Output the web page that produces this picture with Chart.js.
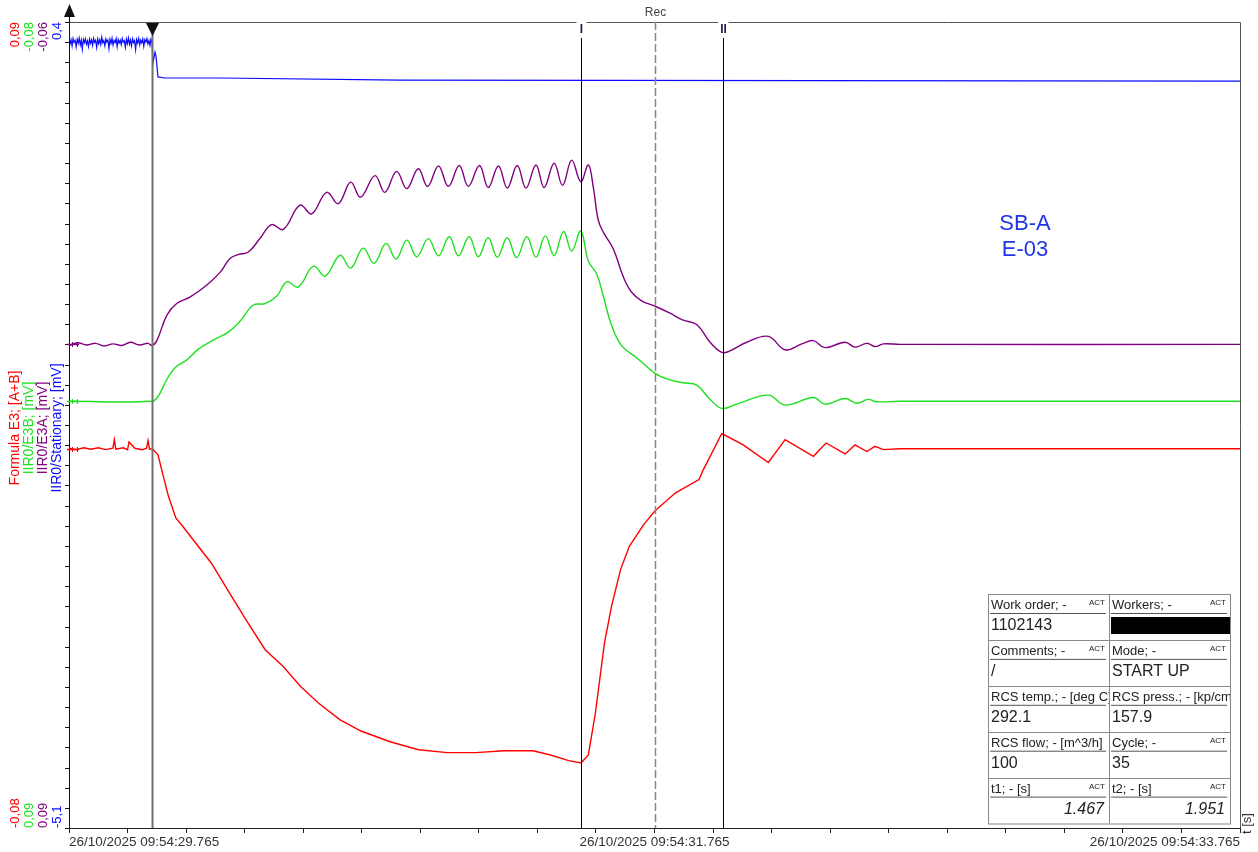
<!DOCTYPE html>
<html>
<head>
<meta charset="utf-8">
<title>SB-A E-03</title>
<script src="https://cdn.jsdelivr.net/npm/chart.js@4.4.1/dist/chart.umd.min.js"></script>
<style>
  html, body { margin: 0; padding: 0; background: #fff; }
  #wrap { position: relative; width: 1258px; height: 852px; }
</style>
</head>
<body>
<div id="wrap"><canvas id="grafico" width="1258" height="852"></canvas></div>
<script>
// Tiempo en segundos contados desde 26/10/2025 09:54:29.765
const startLabel = '26/10/2025 09:54:';
const startSec = 29.765;
const triggerT = 0.2835;
const cursorT = [1.467, 1.951];   // t1, t2 (relativos al trigger)
const recT = 2.0;                 // linea discontinua "Rec"

// Canales: rojo, verde, morado, azul
const seriesNames = ['Formula E3; [A+B]', 'IIR0/E3B; [mV]', 'IIR0/E3A; [mV]', 'IIR0/Stationary; [mV]'];
const axisMin = [-0.08, -0.08, -0.06, -5.1];
const axisMax = [0.09, 0.09, 0.09, 0.4];
const axisReverse = [false, true, true, false];

// Formula E3 [A+B]
const tR = [0, 0.025, 0.05, 0.075, 0.1, 0.125, 0.15, 0.155, 0.16, 0.185, 0.2, 0.205, 0.225, 0.25, 0.265, 0.27, 0.275,
  0.285, 0.304, 0.322, 0.34, 0.365, 0.389, 0.438, 0.486, 0.548, 0.608, 0.67, 0.731, 0.792, 0.853, 0.926, 0.999,
  1.097, 1.194, 1.292, 1.389, 1.487, 1.585, 1.645, 1.707, 1.749, 1.774, 1.798, 1.829, 1.853, 1.884, 1.914, 1.963,
  2.002, 2.072, 2.152, 2.167, 2.23, 2.303, 2.389, 2.446, 2.543, 2.586, 2.651, 2.685, 2.725, 2.753, 2.782, 2.839, 4];
const vR = [0.0001, -0.0002, 0.0002, -0.0001, 0.0002, -0.0002, 0.0001, 0.0019, -0.0001, 0.0002, -0.0002, 0.0014, 0.0001, -0.0002, 0.0001, 0.0017, -0.0001,
  0, -0.0013, -0.0058, -0.0101, -0.0146, -0.0164, -0.0203, -0.0241, -0.0304, -0.0364, -0.0424, -0.0459, -0.0502, -0.0537, -0.0572, -0.0596,
  -0.0618, -0.0635, -0.0641, -0.0641, -0.0637, -0.0637, -0.0646, -0.0658, -0.0663, -0.0646, -0.0558, -0.0410, -0.0333, -0.0255, -0.0206, -0.0160,
  -0.0131, -0.0093, -0.0065, -0.0044, 0.0032, 0.0008, -0.0029, 0.0019, -0.0016, 0.0012, -0.0011, 0.0008, -0.0006, 0.0005, -0.0002, 0, 0];

// IIR0/E3B
const tB = [0, 0.2835, 0.305, 0.334, 0.362, 0.402, 0.442, 0.493, 0.544, 0.584, 0.63, 0.67, 0.71, 0.744, 0.783, 0.835,
  0.875, 0.926, 0.962, 1.005, 1.042, 1.083, 1.117, 1.154, 1.188, 1.227, 1.262, 1.299, 1.33, 1.367, 1.398, 1.432,
  1.463, 1.497, 1.529, 1.564, 1.595, 1.627, 1.657, 1.689, 1.717, 1.748, 1.774, 1.803, 1.825, 1.854, 1.888, 1.939,
  2.002, 2.053, 2.098, 2.144, 2.19, 2.23, 2.281, 2.389, 2.446, 2.543, 2.582, 2.651, 2.691, 2.73, 2.759, 2.839, 4];
const vB = [0, 0, -0.0011, -0.0046, -0.0071, -0.0087, -0.0110, -0.0129, -0.0146, -0.0169, -0.0203, -0.0206, -0.0222, -0.0252, -0.0241, -0.0285,
  -0.0264, -0.0308, -0.0281, -0.0323, -0.0291, -0.0333, -0.0300, -0.0340, -0.0305, -0.0343, -0.0307, -0.0347, -0.0307, -0.0347, -0.0305, -0.0345,
  -0.0304, -0.0345, -0.0303, -0.0347, -0.0304, -0.0349, -0.0307, -0.0358, -0.0317, -0.0359, -0.0296, -0.0268, -0.0222, -0.0159, -0.0117, -0.0092,
  -0.0059, -0.0045, -0.0039, -0.0034, -0.0004, 0.0015, 0.0006, -0.0013, 0.0008, -0.0008, 0.0006, -0.0006, 0.0004, -0.0004, 0.0001, 0, 0];

// IIR0/E3A
const tA = [0, 0.03, 0.06, 0.09, 0.12, 0.15, 0.18, 0.21, 0.24, 0.27, 0.2835, 0.3, 0.334, 0.368, 0.413, 0.47, 0.516, 0.55,
  0.578, 0.613, 0.652, 0.692, 0.732, 0.789, 0.829, 0.88, 0.92, 0.962, 0.996, 1.045, 1.079, 1.119, 1.154, 1.193, 1.225,
  1.262, 1.296, 1.333, 1.364, 1.402, 1.432, 1.467, 1.497, 1.531, 1.561, 1.595, 1.623, 1.657, 1.686, 1.717, 1.748, 1.774,
  1.791, 1.808, 1.825, 1.859, 1.894, 1.922, 1.956, 2.002, 2.053, 2.098, 2.144, 2.19, 2.23, 2.258, 2.315, 2.389, 2.446,
  2.503, 2.543, 2.582, 2.651, 2.685, 2.725, 2.753, 2.782, 2.839, 4];
const vA = [0.0002, -0.0003, 0.0001, -0.0002, 0.0003, -0.0001, 0.0002, -0.0004, 0.0001, -0.0002, 0.0002, -0.0007, -0.0054, -0.0076, -0.0088, -0.0110, -0.0134, -0.0160,
  -0.0167, -0.0172, -0.0197, -0.0223, -0.0214, -0.0259, -0.0243, -0.0283, -0.0262, -0.0302, -0.0274, -0.0314, -0.0283, -0.0322, -0.0290, -0.0327, -0.0294,
  -0.0332, -0.0294, -0.0333, -0.0294, -0.0333, -0.0292, -0.0332, -0.0291, -0.0333, -0.0291, -0.0334, -0.0292, -0.0337, -0.0296, -0.0343, -0.0303, -0.0334,
  -0.0292, -0.0231, -0.0209, -0.0178, -0.0125, -0.0097, -0.0081, -0.0071, -0.0058, -0.0045, -0.0037, -0.0004, 0.0015, 0.0012, -0.0004, -0.0015, 0.0010,
  -0.0001, -0.0007, 0.0006, -0.0004, 0.0005, -0.0002, 0.0004, -0.0001, 0, 0];

// IIR0/Stationary
const tS = [0, 0.0035, 0.007, 0.0105, 0.014, 0.0175, 0.021, 0.0245, 0.028, 0.0315, 0.035, 0.0385, 0.042, 0.0455, 0.049, 0.0525,
  0.056, 0.0595, 0.063, 0.0665, 0.07, 0.0735, 0.077, 0.0805, 0.084, 0.0875, 0.091, 0.0945, 0.098, 0.1015, 0.105, 0.1085,
  0.112, 0.1155, 0.119, 0.1225, 0.126, 0.1295, 0.133, 0.1365, 0.14, 0.1435, 0.147, 0.1505, 0.154, 0.1575, 0.161, 0.1645,
  0.168, 0.1715, 0.175, 0.1785, 0.182, 0.1855, 0.189, 0.1925, 0.196, 0.1995, 0.203, 0.2065, 0.21, 0.2135, 0.217, 0.2205,
  0.224, 0.2275, 0.231, 0.2345, 0.238, 0.2415, 0.245, 0.2485, 0.252, 0.2555, 0.259, 0.2625, 0.266, 0.2695, 0.273, 0.2765, 0.28,
  0.2835, 0.2869, 0.2938, 0.2972, 0.304, 0.328, 0.516, 1.131, 4];
const vS = [0.284, 0.251, 0.279, 0.236, 0.287, 0.262, 0.274, 0.229, 0.282, 0.256, 0.290, 0.244, 0.276, 0.214, 0.281, 0.259,
  0.286, 0.248, 0.272, 0.233, 0.283, 0.255, 0.278, 0.241, 0.288, 0.261, 0.275, 0.226, 0.284, 0.252, 0.279, 0.246,
  0.296, 0.258, 0.273, 0.238, 0.285, 0.263, 0.277, 0.219, 0.282, 0.254, 0.289, 0.243, 0.274, 0.260, 0.286, 0.231,
  0.280, 0.257, 0.276, 0.245, 0.287, 0.262, 0.272, 0.227, 0.283, 0.253, 0.291, 0.249, 0.278, 0.237, 0.285, 0.260,
  0.274, 0.212, 0.281, 0.256, 0.288, 0.244, 0.276, 0.258, 0.284, 0.234, 0.279, 0.263, 0.287, 0.250, 0.273, 0.240, 0.283,
  0.264, 0.120, 0.195, 0.168, 0.025, 0.018, 0.018, 0.004, -0.003];

// Tabla de informacion
const infoLabels = ['Work order; -', 'Workers; -', 'Comments; -', 'Mode; -', 'RCS temp.; - [deg C]', 'RCS press.; - [kp/cm2]',
  'RCS flow; - [m^3/h]', 'Cycle; -', 't1; - [s]', 't2; - [s]'];
const infoAct = [true, true, true, true, false, false, false, true, true, true];
const infoValues = ['1102143', null, '/', 'START UP', '292.1', '157.9', '100', '35', cursorT[0].toFixed(3), cursorT[1].toFixed(3)];

const colors = ['#ff0000', '#1ee01e', '#800080', '#0a0aff'];
const axisIds = ['yR', 'yB', 'yA', 'yS'];
const FONT = 'Arial, "Liberation Sans", sans-serif';

function toXY(ts, vs) {
    return ts.map((t, i) => ({ x: t, y: vs[i] }));
}

function line(ctx, x1, y1, x2, y2) {
    ctx.beginPath();
    ctx.moveTo(x1, y1);
    ctx.lineTo(x2, y2);
    ctx.stroke();
}

// Texto girado 90 grados (se lee de abajo hacia arriba)
function rotText(ctx, txt, x, y, align, color) {
    ctx.save();
    ctx.translate(x, y);
    ctx.rotate(-Math.PI / 2);
    ctx.textAlign = align;
    ctx.textBaseline = 'middle';
    ctx.fillStyle = color;
    ctx.fillText(txt, 0, 0);
    ctx.restore();
}

function fmt(v) {
    return String(v).replace('.', ',');
}

function drawInfo(ctx) {
    const L = 988, T = 594, W = 121, H = 45.9;
    ctx.fillStyle = '#fff';
    ctx.fillRect(L, T, 2 * W, 5 * H);
    for (let i = 0; i < infoLabels.length; i++) {
        const x = L + (i % 2) * W;
        const y = T + Math.floor(i / 2) * H;
        ctx.save();
        ctx.beginPath();
        ctx.rect(x, y, W, H);
        ctx.clip();
        ctx.textBaseline = 'alphabetic';
        ctx.textAlign = 'left';
        ctx.font = '13px ' + FONT;
        ctx.fillStyle = '#222';
        ctx.fillText(infoLabels[i], x + 3, y + 15);
        if (infoAct[i]) {
            ctx.font = '8px ' + FONT;
            ctx.textAlign = 'right';
            ctx.fillText('ACT', x + W - 4, y + 11);
        }
        ctx.strokeStyle = '#555';
        ctx.lineWidth = 1;
        line(ctx, x + 2, y + 19.5, x + W - 3, y + 19.5);
        const val = infoValues[i];
        if (val === null) {
            ctx.fillStyle = '#000';
            ctx.fillRect(x + 2, y + 23, W - 2, 17);
        } else if (i >= 8) {
            ctx.font = 'italic 16px ' + FONT;
            ctx.textAlign = 'right';
            ctx.fillText(val, x + W - 5, y + 36);
        } else {
            ctx.font = '16px ' + FONT;
            ctx.textAlign = 'left';
            ctx.fillText(val, x + 3, y + 36);
        }
        ctx.restore();
    }
    ctx.strokeStyle = '#888';
    ctx.lineWidth = 1;
    ctx.strokeRect(L + 0.5, T + 0.5, 2 * W, 5 * H);
    line(ctx, L + W + 0.5, T, L + W + 0.5, T + 5 * H);
    for (let r = 1; r < 5; r++) {
        const y = Math.round(T + r * H) + 0.5;
        line(ctx, L, y, L + 2 * W, y);
    }
}

const decor = {
    id: 'decor',
    afterDraw(chart) {
        const ctx = chart.ctx;
        const a = chart.chartArea;
        const sx = chart.scales.x;
        ctx.save();

        // marco superior y derecho
        ctx.strokeStyle = '#555';
        ctx.lineWidth = 1;
        ctx.beginPath();
        ctx.moveTo(a.left, a.top + 0.5);
        ctx.lineTo(a.right + 0.5, a.top + 0.5);
        ctx.lineTo(a.right + 0.5, a.bottom);
        ctx.stroke();

        // eje Y con flecha
        ctx.strokeStyle = '#111';
        line(ctx, a.left + 0.5, a.bottom, a.left + 0.5, 14);
        ctx.fillStyle = '#111';
        ctx.beginPath();
        ctx.moveTo(a.left + 0.5, 4);
        ctx.lineTo(a.left - 5, 17);
        ctx.lineTo(a.left + 6, 17);
        ctx.closePath();
        ctx.fill();

        // marcas del eje Y
        const ys = chart.scales.yS;
        for (let i = 0; i <= 40; i++) {
            const y = Math.round(ys.getPixelForValue(axisMin[3] + i * (axisMax[3] - axisMin[3]) / 40)) + 0.5;
            line(ctx, a.left - 4, y, a.left, y);
        }

        // marcadores de cero por canal
        for (let k = 0; k < 3; k++) {
            const y = Math.round(chart.scales[axisIds[k]].getPixelForValue(0)) + 0.5;
            ctx.strokeStyle = colors[k];
            ctx.lineWidth = 1.5;
            line(ctx, a.left - 2, y, a.left + 10, y);
            ctx.lineWidth = 1;
            line(ctx, a.left + 3.5, y - 2.5, a.left + 3.5, y + 2.5);
            line(ctx, a.left + 8.5, y - 2.5, a.left + 8.5, y + 2.5);
        }

        // etiquetas del eje Y: limites y titulos
        const colX = [15, 29, 43, 57];
        for (let k = 0; k < 4; k++) {
            const sc = chart.scales[axisIds[k]];
            const topV = axisReverse[k] ? axisMin[k] : axisMax[k];
            const botV = axisReverse[k] ? axisMax[k] : axisMin[k];
            ctx.font = '13px ' + FONT;
            rotText(ctx, fmt(topV), colX[k], sc.getPixelForValue(topV), 'right', colors[k]);
            rotText(ctx, fmt(botV), colX[k], sc.getPixelForValue(botV), 'left', colors[k]);
            ctx.font = '14px ' + FONT;
            rotText(ctx, seriesNames[k], colX[k], (a.top + a.bottom) / 2 + 3, 'center', colors[k]);
        }

        // unidad del eje X
        ctx.font = '13px ' + FONT;
        rotText(ctx, 't [s]', 1247, a.bottom + 6, 'left', '#333');

        // trigger
        const xt = Math.round(sx.getPixelForValue(triggerT)) + 0.5;
        ctx.strokeStyle = '#707070';
        ctx.lineWidth = 2;
        line(ctx, xt, a.top, xt, a.bottom);
        ctx.fillStyle = '#111';
        ctx.beginPath();
        ctx.moveTo(xt - 6.5, a.top + 1);
        ctx.lineTo(xt + 6.5, a.top + 1);
        ctx.lineTo(xt, a.top + 14);
        ctx.closePath();
        ctx.fill();

        // linea Rec
        const xr = Math.round(sx.getPixelForValue(recT)) + 0.5;
        ctx.strokeStyle = '#888';
        ctx.lineWidth = 1.5;
        ctx.setLineDash([8, 3]);
        line(ctx, xr, a.top, xr, a.bottom);
        ctx.setLineDash([]);
        ctx.fillStyle = '#444';
        ctx.font = '12px ' + FONT;
        ctx.textAlign = 'center';
        ctx.textBaseline = 'middle';
        ctx.fillText('Rec', xr, 13);

        // cursores I y II
        ['I', 'II'].forEach((name, i) => {
            const xc = Math.round(sx.getPixelForValue(triggerT + cursorT[i])) + 0.5;
            ctx.strokeStyle = '#000';
            ctx.lineWidth = 1;
            line(ctx, xc, a.top + 16, xc, a.bottom);
            ctx.fillStyle = '#fff';
            ctx.fillRect(xc - 5, a.top - 1, 10, 15);
            ctx.fillStyle = '#1a1a4a';
            ctx.font = 'bold 12px ' + FONT;
            ctx.fillText(name, xc, a.top + 8);
        });

        // texto SB-A / E-03
        ctx.fillStyle = '#1f35e6';
        ctx.font = '22px ' + FONT;
        ctx.textAlign = 'center';
        ctx.textBaseline = 'alphabetic';
        ctx.fillText('SB-A', 1025, 230);
        ctx.fillText('E-03', 1025, 256);

        drawInfo(ctx);
        ctx.restore();
    }
};

Chart.defaults.font.family = FONT;

const datasets = [[tR, vR], [tB, vB], [tA, vA], [tS, vS]].map((s, k) => ({
    label: seriesNames[k],
    data: toXY(s[0], s[1]),
    yAxisID: axisIds[k],
    borderColor: colors[k],
    borderWidth: k === 3 ? 1.2 : 1.4,
    pointRadius: 0,
    fill: false,
    tension: (k === 1 || k === 2) ? 0.4 : 0
}));

const scales = {
    x: {
        type: 'linear',
        min: 0,
        max: 4,
        ticks: {
            stepSize: 0.2,
            autoSkip: false,
            maxRotation: 0,
            align: 'inner',
            padding: 1,
            color: '#333',
            font: { size: 13.5 },
            callback: function (v) {
                if ([0, 2, 4].some(m => Math.abs(v - m) < 1e-6)) {
                    return startLabel + (startSec + v).toFixed(3);
                }
                return '';
            }
        },
        grid: { drawOnChartArea: false, drawTicks: true, tickLength: 5, color: '#222' },
        border: { display: true, color: '#222' },
        afterFit: function (scale) { scale.height = 24; }
    }
};
axisIds.forEach((id, k) => {
    scales[id] = { type: 'linear', display: false, min: axisMin[k], max: axisMax[k], reverse: axisReverse[k] };
});

new Chart(document.getElementById('grafico').getContext('2d'), {
    type: 'line',
    data: { datasets: datasets },
    options: {
        responsive: false,
        animation: false,
        devicePixelRatio: 1,
        layout: { padding: { left: 69, right: 18, top: 22, bottom: 0 } },
        plugins: { legend: { display: false }, tooltip: { enabled: false } },
        scales: scales
    },
    plugins: [decor]
});
</script>
</body>
</html>
